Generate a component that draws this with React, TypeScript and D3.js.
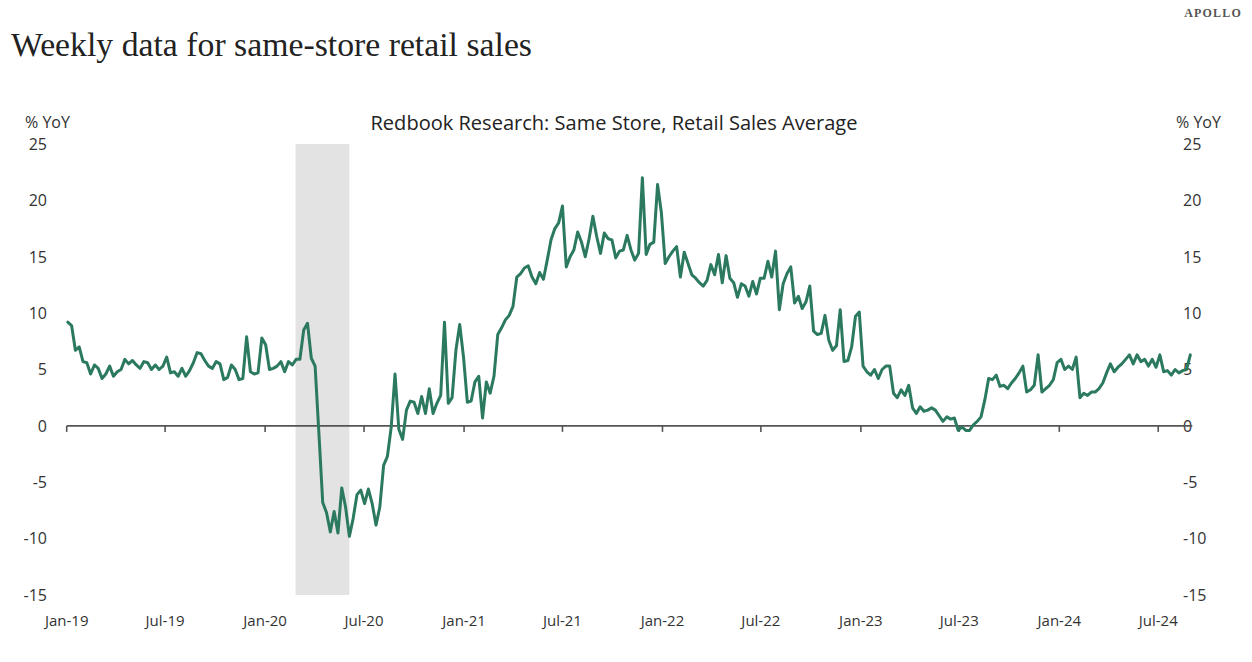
import React from "react";
import * as d3 from "d3";

// Weekly Redbook same-store sales, % YoY
const seg2019 = [
  9.2, 8.9, 6.7, 7.0, 5.7, 5.6, 4.6, 5.4, 5.1, 4.2,
  4.6, 5.3, 4.4, 4.8, 5.0, 5.9, 5.5, 5.8, 5.4, 5.1,
  5.7, 5.6, 5.0, 5.4, 5.0, 5.3, 6.1, 4.7, 4.8, 4.4,
  5.1, 4.4, 4.9, 5.6, 6.5, 6.4, 5.8, 5.3, 5.1, 5.7,
  5.5, 4.1, 4.3, 5.4, 5.0, 4.1, 4.2, 7.9, 4.8,
];
const seg2020 = [
  4.6, 4.7, 7.8, 7.2, 5.0, 5.1, 5.3, 5.7, 4.8, 5.7,
  5.4, 5.9, 5.9, 8.5, 9.1, 6.0, 5.3, -0.7, -6.8, -7.7,
  -9.4, -7.6, -9.5, -5.5, -7.2, -9.8, -8.2, -6.1, -5.7, -6.9,
  -5.6, -6.9, -8.8, -7.2, -3.5, -2.7, -0.1, 4.6, -0.3, -1.2,
  1.4, 2.2, 2.1, 1.1, 2.6, 1.1, 3.3, 1.1, 2.0,
];
const seg2021 = [
  2.7, 9.2, 2.0, 2.5, 6.7, 9.0, 6.1, 2.1, 2.2, 3.9,
  4.4, 0.7, 3.9, 2.9, 4.4, 8.1, 8.7, 9.4, 9.8, 10.6,
  13.2, 13.5, 14.0, 14.2, 13.2, 12.6, 13.6, 13.0, 14.7, 16.5,
  17.5, 18.0, 19.5, 14.1, 15.0, 15.6, 17.2, 16.3, 15.0, 16.6,
  18.6, 16.8, 15.3, 17.1, 16.6, 16.5, 14.9, 15.5, 15.6, 16.9,
];
const seg2022 = [
  15.6, 14.7, 15.3, 22.0, 15.2, 16.1, 16.3, 21.4, 18.9, 14.4,
  15.0, 15.5, 15.9, 13.2, 15.4, 14.4, 13.4, 13.1, 12.7, 12.4,
  12.9, 14.3, 13.4, 15.2, 12.7, 15.1, 13.1, 12.7, 11.4, 12.6,
  12.4, 11.5, 12.8, 11.7, 13.1, 13.1, 14.6, 13.2, 15.5, 10.3,
  12.6, 13.5, 14.1, 10.9, 11.5, 10.4, 11.0, 12.4, 8.4, 8.1,
];
const seg2023 = [
  8.2, 9.8, 7.6, 6.7, 7.1, 10.3, 5.7, 5.8, 7.0, 9.7,
  10.1, 5.3, 4.8, 4.5, 5.0, 4.2, 5.0, 5.3, 5.3, 2.9,
  2.5, 3.2, 2.7, 3.6, 1.6, 1.1, 1.7, 1.3, 1.4, 1.6,
  1.4, 0.9, 0.4, 0.8, 0.6, 0.7, -0.4, -0.1, -0.4, -0.4,
  0.1, 0.4, 0.8, 2.3, 4.2, 4.1, 4.5, 3.5, 3.6, 3.3,
];
const seg2024 = [
  3.8, 4.2, 4.7, 5.3, 3.0, 3.2, 3.6, 6.3, 3.0, 3.3,
  3.6, 4.1, 5.6, 5.9, 5.0, 5.3, 5.0, 6.1, 2.5, 2.9,
  2.7, 3.0, 3.0, 3.3, 3.8, 4.7, 5.5, 4.8, 5.2, 5.5,
  5.9, 6.3, 5.5, 6.3, 5.7, 5.9, 5.3, 5.9, 5.2, 6.3,
  4.8, 4.9, 4.5, 5.0, 4.7, 4.9, 5.0, 6.3,
];
const firstWeek = "2019-01-03";
const recessionStart = "2020-02-26";
const recessionEnd = "2020-06-04";
const xTickLabels = ["Jan-19", "Jul-19", "Jan-20", "Jul-20", "Jan-21", "Jul-21", "Jan-22", "Jul-22", "Jan-23", "Jul-23", "Jan-24", "Jul-24"];
const yTicks = [-15, -10, -5, 0, 5, 10, 15, 20, 25];

const W = 1252;
const H = 662;
const SANS = "'Open Sans', 'Noto Sans', sans-serif";
const LINE = "#2b7a5f";

export default function App() {
  const parse = d3.utcParse("%Y-%m-%d");
  const values = [...seg2019, ...seg2020, ...seg2021, ...seg2022, ...seg2023, ...seg2024];
  const start = parse(firstWeek)!;
  const data = values.map((v, i) => ({ date: d3.utcWeek.offset(start, i), v }));

  const x = d3
    .scaleUtc()
    .domain([new Date(Date.UTC(2019, 0, 1)), new Date(Date.UTC(2024, 0, 1))])
    .range([66.7, 1059.3]);
  const y = d3.scaleLinear().domain([-15, 25]).range([595, 144]);

  const tickDates = d3.utcMonth.every(6)!.range(new Date(Date.UTC(2019, 0, 1)), new Date(Date.UTC(2024, 7, 1)));
  const line = d3
    .line<{ date: Date; v: number }>()
    .x((d) => x(d.date))
    .y((d) => y(d.v));

  const lastX = x(data[data.length - 1].date);
  const r0 = x(parse(recessionStart)!);
  const r1 = x(parse(recessionEnd)!);

  return (
    <svg width={W} height={H} style={{ position: "absolute", left: 0, top: 0, background: "#fff" }}>
      <text x={1242} y={17} textAnchor="end" fontFamily="'Liberation Serif', serif" fontSize={12} fontWeight={700} letterSpacing={1.2} fill="#555">
        APOLLO
      </text>
      <text x={11} y={56} fontFamily="'Liberation Serif', serif" fontSize={33.5} fill="#222" textLength={521} lengthAdjust="spacingAndGlyphs">
        Weekly data for same-store retail sales
      </text>

      <text x={614} y={130} textAnchor="middle" fontFamily={SANS} fontSize={19.5} fill="#222" textLength={487} lengthAdjust="spacingAndGlyphs">
        Redbook Research: Same Store, Retail Sales Average
      </text>
      <text x={25} y={128} fontFamily={SANS} fontSize={16} fill="#333">% YoY</text>
      <text x={1176} y={128} fontFamily={SANS} fontSize={16} fill="#333">% YoY</text>

      <rect x={r0} y={y(25)} width={r1 - r0} height={y(-15) - y(25)} fill="#e3e3e3" />

      {yTicks.map((t) => (
        <g key={t}>
          <text x={47} y={y(t)} dy="0.36em" textAnchor="end" fontFamily={SANS} fontSize={16} fill="#333">
            {t}
          </text>
          <text x={1183} y={y(t)} dy="0.36em" textAnchor="start" fontFamily={SANS} fontSize={16} fill="#333">
            {t}
          </text>
        </g>
      ))}

      <line x1={x(tickDates[0])} x2={lastX + 2} y1={y(0)} y2={y(0)} stroke="#555" strokeWidth={1.6} />
      {tickDates.map((d, i) => (
        <g key={i}>
          <line x1={x(d)} x2={x(d)} y1={y(0)} y2={y(0) + 6} stroke="#555" strokeWidth={1.6} />
          <text x={x(d)} y={626} textAnchor="middle" fontFamily={SANS} fontSize={15} fill="#333">
            {xTickLabels[i]}
          </text>
        </g>
      ))}

      <path d={line(data) ?? ""} fill="none" stroke={LINE} strokeWidth={3} strokeLinejoin="round" strokeLinecap="round" />
    </svg>
  );
}
